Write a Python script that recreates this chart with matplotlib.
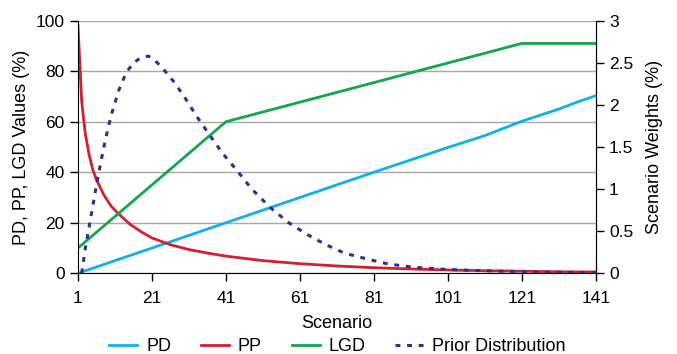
import matplotlib.pyplot as plt

plt.rcParams['font.family'] = ['Liberation Sans', 'DejaVu Sans']

# data
pd_scen = [1, 21, 41, 61, 81, 101, 111, 121, 131, 136, 141]
pd_vals = [0, 10, 20, 30, 40, 49.8, 54.5, 60.2, 65.0, 67.8, 70.3]

pp_scen = [1, 2, 3, 4, 5, 6, 8, 10, 12, 15, 18, 21, 26, 31, 36, 41, 51, 61, 71, 81, 91, 101, 111, 121, 131, 141]
pp_vals = [98, 68, 55, 47, 41, 37, 31, 26.5, 23.5, 19.5, 16.5, 14, 11.3, 9.4, 8, 6.8, 5, 3.8, 2.9, 2.2, 1.7, 1.3, 1.0, 0.8, 0.6, 0.5]

lgd_scen = [1, 41, 121, 141]
lgd_vals = [10, 60, 91, 91]

prior_scen = [2, 3, 4, 5, 6, 7, 8, 9, 10, 12, 14, 16, 18, 20, 22, 24, 27, 30, 33, 36,
              40, 44, 48, 53, 58, 63, 68, 73, 80, 85, 92, 101, 111, 121, 131, 141]
prior_vals = [0.0, 0.3, 0.55, 0.8, 1.05, 1.28, 1.5, 1.7, 1.88, 2.17, 2.38, 2.5, 2.56, 2.58,
              2.52, 2.43, 2.27, 2.08, 1.87, 1.68, 1.43, 1.22, 1.0, 0.78, 0.6, 0.46, 0.34,
              0.24, 0.16, 0.11, 0.07, 0.045, 0.03, 0.02, 0.012, 0.008]

x_ticks = [1, 21, 41, 61, 81, 101, 121, 141]

fig = plt.figure(figsize=(6.77, 3.54), dpi=100)
ax = fig.add_axes([0.1152, 0.228, 0.7648, 0.7135])
ax2 = ax.twinx()

l1, = ax.plot(pd_scen, pd_vals, color='#10b0ec', lw=2.0, label='PD')
l2, = ax.plot(pp_scen, pp_vals, color='#d2202f', lw=2.0, label='PP')
l3, = ax.plot(lgd_scen, lgd_vals, color='#13a64a', lw=2.0, label='LGD')
l4, = ax2.plot(prior_scen, prior_vals, color='#2e3192', lw=2.2,
               linestyle=(0, (1.6, 2.2)), label='Prior Distribution')

ax.set_xlim(1, 141)
ax.set_ylim(0, 100)
ax2.set_ylim(0, 3)
ax.set_xticks(x_ticks)
ax.set_yticks(range(0, 101, 20))
ax2.set_yticks([0, 0.5, 1, 1.5, 2, 2.5, 3])
ax2.set_yticklabels(['0', '0.5', '1', '1.5', '2', '2.5', '3'])

ax.grid(axis='y', color='#a8a8a8', lw=1)
ax.set_axisbelow(True)
for a in (ax, ax2):
    a.spines['top'].set_visible(False)
    a.tick_params(labelsize=12.5, length=6, width=1, direction='out')
ax.tick_params(axis='x', pad=7)
ax2.spines['left'].set_visible(False)
ax2.spines['bottom'].set_visible(False)

ax.set_xlabel('Scenario', fontsize=13, labelpad=6)
ax.set_ylabel('PD, PP, LGD Values (%)', fontsize=13, labelpad=4)
ax2.set_ylabel('Scenario Weights (%)', fontsize=13, labelpad=9)

fig.legend(handles=[l1, l2, l3, l4], loc='lower center', ncol=4, frameon=False,
           fontsize=13, bbox_to_anchor=(0.4985, -0.05), handlelength=1.55,
           columnspacing=1.65, handletextpad=0.5)

fig.savefig('out.png', dpi=100)
